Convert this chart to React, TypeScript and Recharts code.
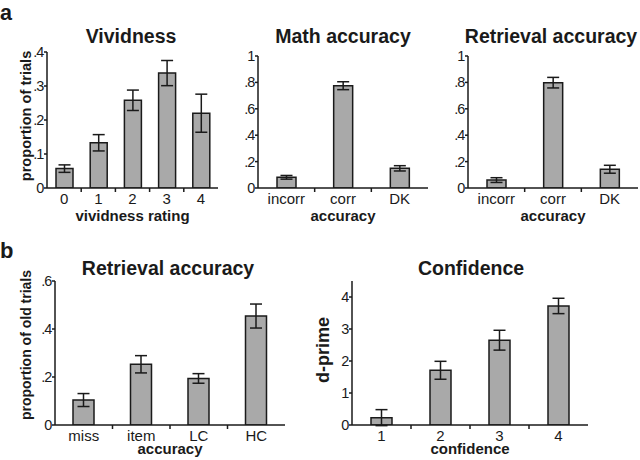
import React from "react"
import { BarChart, Bar, XAxis, YAxis, ErrorBar } from "recharts"

// panel a: vividness
const vividCats = ["0", "1", "2", "3", "4"]
const vividVals = [0.057, 0.133, 0.258, 0.338, 0.22]
const vividErr = [0.011, 0.024, 0.03, 0.037, 0.056]

// panel a: math accuracy
const accCats = ["incorr", "corr", "DK"]
const mathVals = [0.081, 0.775, 0.149]
const mathErr = [0.014, 0.03, 0.02]

// panel a: retrieval accuracy
const retrVals = [0.06, 0.798, 0.142]
const retrErr = [0.018, 0.04, 0.03]

// panel b: retrieval accuracy, in percent of old trials (axis shows proportions)
const oldCats = ["miss", "item", "LC", "HC"]
const oldPct = [10.4, 25.3, 19.4, 45.4]
const oldErrPct = [2.7, 3.6, 2.0, 5.0]

// panel b: confidence
const confCats = ["1", "2", "3", "4"]
const confVals = [0.23, 1.71, 2.65, 3.72]
const confErr = [0.25, 0.28, 0.31, 0.24]

const FONT = "'Liberation Sans', Arial, sans-serif"
const INK = "#1a1a1a"
const BAR_FILL = "#a9a9a9"

const toRows = (cats: string[], vals: number[], errs: number[]) =>
  cats.map((name, i) => ({ name, value: vals[i], err: errs[i] }))

const fmtFrac = (v: number) => {
  const r = Math.round(v * 10) / 10
  return r === 0 ? "0" : r === 1 ? "1" : String(r).replace(/^0/, "")
}
const fmtPct = (v: number) => fmtFrac(v / 100)

type PanelProps = {
  left: number
  plotTop: number
  plotW: number
  plotH: number
  rows: { name: string; value: number; err: number }[]
  domain: [number, number]
  ticks: number[]
  fmt: (v: number) => string
  barSize: number
  xLabel: string
  xLabelDy: number
  yLabel?: string
  yLabelX?: number
  yLabelDy?: number
  yLabelSize?: number
  xh?: number
}

const YW = 45
const MT = 30 // room above the plot so rotated labels are not clipped
const MR = 2

function Panel(p: PanelProps) {
  const xh = p.xh ?? 40
  const band = p.plotW / p.rows.length
  const W = YW + p.plotW + MR
  const H = MT + p.plotH + xh

  // category label under the bar, small tick mark on the boundary between bars
  const xTick = (props: any) => {
    const { x, y, payload, index } = props
    return (
      <g>
        <text x={x} y={y + 15.5} textAnchor="middle" fontSize={15} fill={INK} fontFamily={FONT}>
          {payload.value}
        </text>
        {index > 0 && (
          <line x1={x - band / 2} x2={x - band / 2} y1={y} y2={y + 4} stroke={INK} strokeWidth={1.5} />
        )}
      </g>
    )
  }

  // value label with its small outward tick
  const yTick = (props: any) => {
    const { x, y, payload } = props
    return (
      <g>
        <line x1={x - 3} x2={x} y1={y} y2={y} stroke={INK} strokeWidth={1.5} />
        <text
          x={x - 4}
          y={y + 5}
          textAnchor="end"
          fontSize={14.5}
          letterSpacing={-1.2}
          fill={INK}
          fontFamily={FONT}
        >
          {p.fmt(payload.value)}
        </text>
      </g>
    )
  }

  return (
    <div style={{ position: "absolute", left: p.left, top: p.plotTop - MT }}>
      <BarChart width={W} height={H} data={p.rows} margin={{ top: MT, right: MR, left: 0, bottom: 0 }}>
        <XAxis
          dataKey="name"
          height={xh}
          tickSize={0}
          tickMargin={0}
          tickLine={false}
          axisLine={{ stroke: INK, strokeWidth: 1.5 }}
          tick={xTick}
          interval={0}
          label={{
            content: (lp: any) => (
              <text
                x={lp.viewBox.x + lp.viewBox.width / 2}
                y={lp.viewBox.y + p.xLabelDy}
                textAnchor="middle"
                fontSize={15}
                fontWeight="bold"
                fill={INK}
                fontFamily={FONT}
              >
                {p.xLabel}
              </text>
            ),
          }}
        />
        <YAxis
          type="number"
          width={YW}
          domain={p.domain}
          ticks={p.ticks}
          interval={0}
          allowDataOverflow
          tickSize={0}
          tickMargin={0}
          tickLine={false}
          axisLine={{ stroke: INK, strokeWidth: 1.5 }}
          tick={yTick}
          label={
            p.yLabel
              ? {
                  content: (lp: any) => {
                    const x = lp.viewBox.x + (p.yLabelX ?? 30)
                    const y = lp.viewBox.y + lp.viewBox.height / 2 + (p.yLabelDy ?? 0)
                    return (
                      <text
                        x={x}
                        y={y}
                        transform={`rotate(-90, ${x}, ${y})`}
                        textAnchor="middle"
                        fontSize={p.yLabelSize ?? 14}
                        fontWeight="bold"
                        fill={INK}
                        fontFamily={FONT}
                      >
                        {p.yLabel}
                      </text>
                    )
                  },
                }
              : undefined
          }
        />
        <Bar dataKey="value" fill={BAR_FILL} stroke={INK} strokeWidth={1.5} barSize={p.barSize} isAnimationActive={false}>
          <ErrorBar dataKey="err" width={6} stroke={INK} strokeWidth={1.5} isAnimationActive={false} />
        </Bar>
      </BarChart>
    </div>
  )
}

const titleStyle = { fontFamily: FONT, fontWeight: "bold" as const, fill: INK }

export default function App() {
  return (
    <div style={{ position: "absolute", left: 0, top: 0, width: 640, height: 460, background: "#fff", overflow: "hidden", fontFamily: FONT }}>
      <Panel
        left={2} plotTop={52} plotW={171} plotH={136}
        rows={toRows(vividCats, vividVals, vividErr)}
        domain={[0, 0.4]} ticks={[0, 0.1, 0.2, 0.3, 0.4]} fmt={fmtFrac}
        barSize={17} xLabel="vividness rating" xLabelDy={33}
        yLabel="proportion of trials" yLabelX={28.5} yLabelDy={-4} yLabelSize={14.6}
      />
      <Panel
        left={213} plotTop={56} plotW={170} plotH={132}
        rows={toRows(accCats, mathVals, mathErr)}
        domain={[0, 1]} ticks={[0, 0.2, 0.4, 0.6, 0.8, 1]} fmt={fmtFrac}
        barSize={19} xLabel="accuracy" xLabelDy={33}
      />
      <Panel
        left={423} plotTop={56} plotW={170} plotH={132}
        rows={toRows(accCats, retrVals, retrErr)}
        domain={[0, 1]} ticks={[0, 0.2, 0.4, 0.6, 0.8, 1]} fmt={fmtFrac}
        barSize={19} xLabel="accuracy" xLabelDy={33}
      />
      <Panel
        left={10} plotTop={281} plotW={230} plotH={144} xh={35}
        rows={toRows(oldCats, oldPct, oldErrPct)}
        domain={[0, 60]} ticks={[0, 20, 40, 60]} fmt={fmtPct}
        barSize={21} xLabel="accuracy" xLabelDy={29}
        yLabel="proportion of old trials" yLabelX={21} yLabelDy={-8}
      />
      <Panel
        left={307} plotTop={281} plotW={236} plotH={144} xh={35}
        rows={toRows(confCats, confVals, confErr)}
        domain={[0, 4.5]} ticks={[0, 1, 2, 3, 4]} fmt={(v) => String(v)}
        barSize={21} xLabel="confidence" xLabelDy={29}
        yLabel="d-prime" yLabelX={22} yLabelDy={-3} yLabelSize={18}
      />
      <svg width={640} height={460} style={{ position: "absolute", left: 0, top: 0, pointerEvents: "none" }}>
        <text x={0} y={19.5} fontSize={21.5} {...titleStyle}>a</text>
        <text x={0} y={257.5} fontSize={22} {...titleStyle}>b</text>
        <text x={131} y={42.5} fontSize={19.5} textAnchor="middle" {...titleStyle}>Vividness</text>
        <text x={343} y={42.5} fontSize={19.5} textAnchor="middle" {...titleStyle}>Math accuracy</text>
        <text x={551} y={42.5} fontSize={19.5} textAnchor="middle" {...titleStyle}>Retrieval accuracy</text>
        <text x={168} y={275} fontSize={19.5} textAnchor="middle" {...titleStyle}>Retrieval accuracy</text>
        <text x={471} y={275} fontSize={19.5} textAnchor="middle" {...titleStyle}>Confidence</text>
      </svg>
    </div>
  )
}
